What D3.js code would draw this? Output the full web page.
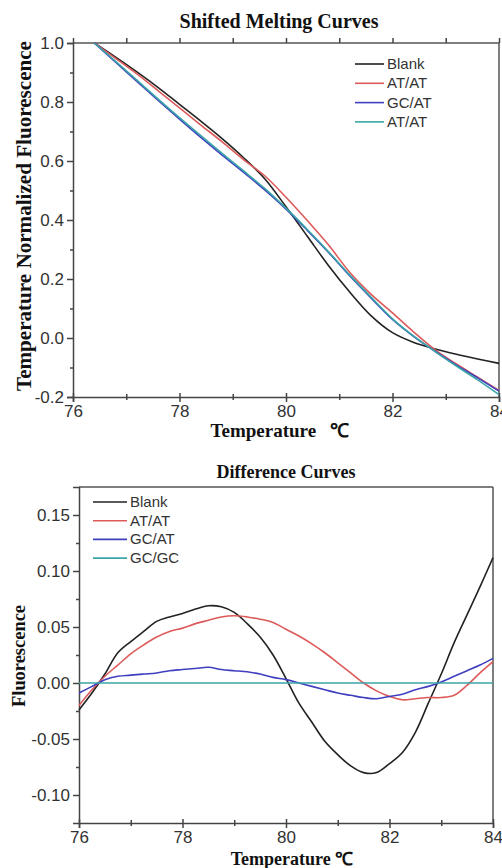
<!DOCTYPE html>
<html lang="en">
<head>
    <meta charset="UTF-8">
    <title>Shifted Melting Curves / Difference Curves</title>
    <script src="https://d3js.org/d3.v7.min.js"></script>
    <style>
        body { margin: 0; background: #fff; }
        .tick text { font-family: "Liberation Sans", Arial, sans-serif; font-size: 17px; fill: #333; }
        .domain, .tick line { stroke: #444; stroke-width: 1.5; }
        .frame { stroke: #555; stroke-width: 1.5; fill: none; }
        .title { font-family: "Liberation Serif", "Times New Roman", serif; font-weight: bold; fill: #111; white-space: pre; }
        .legend text { font-family: "Liberation Sans", Arial, sans-serif; font-size: 15px; fill: #333; }
        .curve { fill: none; stroke-width: 1.6; }
    </style>
</head>
<body>
<svg id="chart" width="502" height="868"></svg>
<script>
    // ---- top panel data (normalized melting curves) ----
    const meltTemps = [76.4, 76.8, 77.2, 77.6, 78.0, 78.4, 78.8, 79.2, 79.6, 80.0,
                       80.4, 80.8, 81.2, 81.6, 82.0, 82.4, 82.8, 83.2, 83.6, 84.0];
    const meltBlank = [1.0, 0.952, 0.902, 0.849, 0.792, 0.735, 0.676, 0.612, 0.54, 0.445,
                       0.345, 0.245, 0.155, 0.075, 0.018, -0.015, -0.037, -0.055, -0.071, -0.086];
    const meltATAT  = [1.0, 0.948, 0.895, 0.838, 0.78, 0.722, 0.665, 0.605, 0.55, 0.477,
                       0.398, 0.315, 0.222, 0.148, 0.085, 0.02, -0.04, -0.088, -0.133, -0.178];
    const meltGCAT  = [1.0, 0.935, 0.87, 0.805, 0.742, 0.68, 0.62, 0.562, 0.502, 0.437,
                       0.365, 0.29, 0.21, 0.135, 0.063, 0.005, -0.045, -0.092, -0.135, -0.18];
    const meltATAT2 = [1.0, 0.938, 0.874, 0.81, 0.747, 0.686, 0.626, 0.567, 0.507, 0.44,
                       0.368, 0.292, 0.213, 0.138, 0.065, 0.006, -0.046, -0.095, -0.142, -0.192];
    const meltLabels = ["Blank", "AT/AT", "GC/AT", "AT/AT"];

    // ---- bottom panel data (difference curves) ----
    const diffTemps = [76.0, 76.25, 76.5, 76.75, 77.0, 77.25, 77.5, 77.75, 78.0, 78.25, 78.5,
                       78.75, 79.0, 79.25, 79.5, 79.75, 80.0, 80.25, 80.5, 80.75, 81.0, 81.25,
                       81.5, 81.75, 82.0, 82.25, 82.5, 82.75, 83.0, 83.25, 83.5, 83.75, 84.0];
    const diffBlank = [-0.024, -0.009, 0.008, 0.027, 0.037, 0.046, 0.055, 0.059, 0.062, 0.066, 0.069,
                       0.068, 0.063, 0.053, 0.041, 0.025, 0.004, -0.018, -0.035, -0.052, -0.064, -0.074,
                       -0.080, -0.080, -0.072, -0.062, -0.044, -0.018, 0.008, 0.036, 0.061, 0.086, 0.112];
    const diffATAT  = [-0.020, -0.006, 0.006, 0.016, 0.026, 0.034, 0.041, 0.046, 0.049, 0.053, 0.056,
                       0.059, 0.060, 0.059, 0.057, 0.054, 0.048, 0.042, 0.035, 0.027, 0.018, 0.009,
                       0.000, -0.007, -0.012, -0.015, -0.014, -0.013, -0.013, -0.011, -0.002, 0.009, 0.019];
    const diffGCAT  = [-0.009, -0.003, 0.003, 0.006, 0.007, 0.008, 0.009, 0.011, 0.012, 0.013, 0.014,
                       0.012, 0.011, 0.010, 0.008, 0.005, 0.003, 0.000, -0.003, -0.006, -0.009, -0.011,
                       -0.013, -0.014, -0.012, -0.010, -0.006, -0.003, 0.001, 0.006, 0.011, 0.016, 0.022];
    const diffGCGC  = [0, 0, 0, 0, 0, 0, 0, 0, 0, 0, 0, 0, 0, 0, 0, 0, 0, 0, 0, 0, 0, 0,
                       0, 0, 0, 0, 0, 0, 0, 0, 0, 0, 0];
    const diffLabels = ["Blank", "AT/AT", "GC/AT", "GC/GC"];

    // tick values
    const xMajor = [76, 78, 80, 82, 84];
    const xMinor = [77, 79, 81, 83];
    const meltYMajor = [-0.2, 0.0, 0.2, 0.4, 0.6, 0.8, 1.0];
    const meltYMinor = [-0.1, 0.1, 0.3, 0.5, 0.7, 0.9];
    const diffYMajor = [-0.10, -0.05, 0.00, 0.05, 0.10, 0.15];
    const diffYMinor = [-0.075, -0.025, 0.025, 0.075, 0.125];

    const colors = ["#222222", "#dd5a5a", "#3f3fc0", "#3aa5a8"];

    const svg = d3.select("#chart");

    // Draw one panel
    function drawPanel(opt) {
        const g = svg.append("g");
        const x = d3.scaleLinear().domain([76, 84]).range([opt.left, opt.right]);
        const y = d3.scaleLinear().domain(opt.yDomain).range([opt.bottom, opt.top]);

        // frame top / right
        g.append("line").attr("class", "frame")
            .attr("x1", opt.left).attr("x2", opt.right).attr("y1", opt.top).attr("y2", opt.top);
        g.append("line").attr("class", "frame")
            .attr("x1", opt.right).attr("x2", opt.right).attr("y1", opt.top).attr("y2", opt.bottom);

        // top ticks (only first panel)
        if (opt.topTicks) {
            g.append("g").attr("transform", `translate(0,${opt.top})`)
                .call(d3.axisTop(x).tickValues(xMajor.concat(xMinor)).tickSize(5).tickFormat(""))
                .select(".domain").remove();
        }

        // x axis
        const xa = g.append("g").attr("transform", `translate(0,${opt.bottom})`)
            .call(d3.axisBottom(x).tickValues(xMajor).tickSize(5).tickPadding(3).tickFormat(d => d));
        xa.selectAll(".tick line").attr("y1", -4);
        const xm = g.append("g").attr("transform", `translate(0,${opt.bottom})`)
            .call(d3.axisBottom(x).tickValues(xMinor).tickSize(3).tickFormat(""));
        xm.select(".domain").remove();
        xm.selectAll(".tick line").attr("y1", -3);

        // y axis
        g.append("g").attr("transform", `translate(${opt.left},0)`)
            .call(d3.axisLeft(y).tickValues(opt.yMajor).tickSize(6).tickPadding(3)
                .tickFormat(d => d.toFixed(opt.digits)));
        g.append("g").attr("transform", `translate(${opt.left},0)`)
            .call(d3.axisLeft(y).tickValues(opt.yMinor).tickSize(3).tickFormat(""))
            .select(".domain").remove();

        // curves
        const line = d3.line()
            .x((d, i) => x(opt.temps[i]))
            .y(d => y(d))
            .curve(d3.curveCatmullRom);
        opt.series.forEach((s, i) => {
            g.append("path").attr("class", "curve")
                .attr("d", line(s))
                .attr("stroke", colors[i]);
        });

        // legend
        const lg = g.append("g").attr("class", "legend");
        opt.labels.forEach((lab, i) => {
            const ly = opt.legY + i * opt.legStep;
            lg.append("line")
                .attr("x1", opt.legX).attr("x2", opt.legX + opt.legLen)
                .attr("y1", ly).attr("y2", ly)
                .attr("stroke", colors[i]).attr("stroke-width", 1.6);
            lg.append("text")
                .attr("x", opt.legX + opt.legLen + 3).attr("y", ly + 5)
                .text(lab);
        });

        // titles
        g.append("text").attr("class", "title")
            .attr("x", opt.titleX).attr("y", opt.titleY)
            .attr("text-anchor", "middle").attr("font-size", opt.titleSize)
            .text(opt.title);
        g.append("text").attr("class", "title")
            .attr("x", opt.xLabX).attr("y", opt.xLabY)
            .attr("text-anchor", "middle").attr("font-size", opt.xLabSize)
            .text(opt.xLabel);
        g.append("text").attr("class", "title")
            .attr("transform", `translate(${opt.yLabX},${opt.yLabY}) rotate(-90)`)
            .attr("text-anchor", "middle").attr("font-size", opt.yLabSize)
            .attr("textLength", opt.yLabLen).attr("lengthAdjust", "spacingAndGlyphs")
            .text(opt.yLabel);
    }

    drawPanel({
        left: 73, right: 499, top: 43, bottom: 397,
        yDomain: [-0.2, 1.0], yMajor: meltYMajor, yMinor: meltYMinor, digits: 1,
        topTicks: true,
        temps: meltTemps, series: [meltBlank, meltATAT, meltGCAT, meltATAT2],
        labels: meltLabels, legX: 355, legY: 64, legStep: 19.3, legLen: 29,
        title: "Shifted Melting Curves", titleX: 279, titleY: 28, titleSize: 20,
        xLabel: "Temperature   \u2103", xLabX: 280, xLabY: 437, xLabSize: 19,
        yLabel: "Temperature Normalized Fluorescence", yLabX: 31, yLabY: 216, yLabSize: 20, yLabLen: 350
    });

    drawPanel({
        left: 79, right: 493, top: 487, bottom: 823,
        yDomain: [-0.125, 0.175], yMajor: diffYMajor, yMinor: diffYMinor, digits: 2,
        topTicks: false,
        temps: diffTemps, series: [diffBlank, diffATAT, diffGCAT, diffGCGC],
        labels: diffLabels, legX: 93, legY: 502, legStep: 18.7, legLen: 34,
        title: "Difference Curves", titleX: 286, titleY: 478, titleSize: 18,
        xLabel: "Temperature \u2103", xLabX: 292, xLabY: 865, xLabSize: 18,
        yLabel: "Fluorescence", yLabX: 25, yLabY: 656, yLabSize: 19, yLabLen: 102
    });
</script>
</body>
</html>
